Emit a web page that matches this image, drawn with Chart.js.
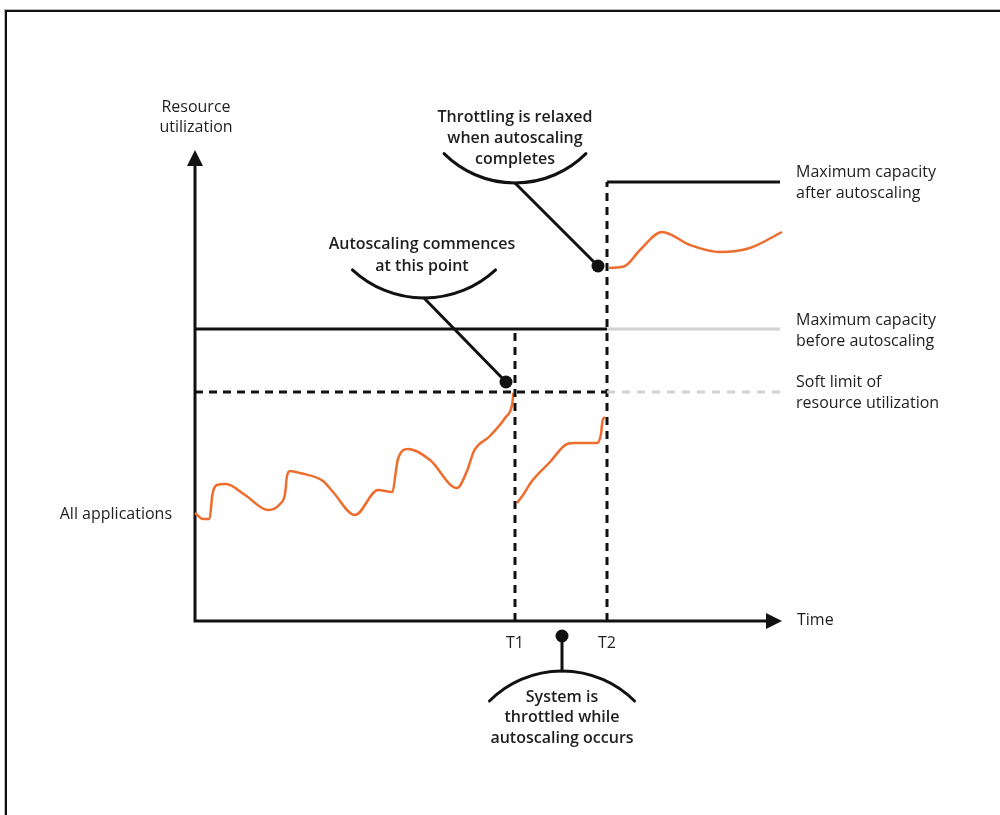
<!DOCTYPE html>
<html lang="en">
<head>
<meta charset="UTF-8">
<title>Autoscaling and throttling</title>
<script src="https://cdn.jsdelivr.net/npm/chart.js@4.4.1/dist/chart.umd.min.js"></script>
<style>
  html, body { margin: 0; padding: 0; background: #fff; overflow: hidden; }
  .frame { position: absolute; left: 5px; top: 10px; width: 1100px; height: 900px; border-top: 2px solid #111; border-left: 2px solid #111; box-shadow: -1px -1px 0 #bbb; }
  canvas { position: absolute; left: 0; top: 0; }
</style>
</head>
<body>
<div class="frame"></div>
<canvas id="chart" width="1000" height="815"></canvas>
<script>
// time / utilization units
const X_MAX = 118;
const Y_MIN = -6;
const Y_MAX = 94.2;
const T1 = 64;
const T2 = 82.4;
const CAP_BEFORE = 58.4;
const SOFT_LIMIT = 45.8;
const CAP_AFTER = 87.8;

// "All applications" load, three pieces
const loadBeforeT1 = [
  [0, 21.6], [1.6, 20.4], [2.9, 20.4], [3.5, 25.4], [4.4, 27.2], [6.2, 27.4], [10, 25.2], [14.6, 22.2],
  [17, 23.4], [18, 25.4], [18.4, 29], [19, 30], [21, 29.6], [25.6, 28], [27.6, 25.8], [32, 21.2],
  [36.6, 26.2], [39.4, 25.8], [40.6, 32.4], [42.6, 34.4], [47, 32.2], [52.4, 26.6], [54.4, 30],
  [55.8, 34], [59, 37], [62, 40.6], [63.4, 43.2], [63.7, 45.6]
];
const loadThrottled = [
  [64.4, 23.6], [65.6, 25.2], [67.4, 28], [71, 31.8], [74.4, 35.4], [76, 35.6],
  [80.4, 35.6], [81.2, 37.4], [81.5, 40], [82, 40.8]
];
const loadAfterT2 = [
  [82.8, 70.6], [86, 71], [89, 74.2], [93.4, 77.8], [99, 75.2], [105, 73.8], [111, 74.6], [117.4, 77.8]
];

// callout dots
const dotStart = [62.2, 47.8];
const dotRelaxed = [80.6, 71];
const dotThrottled = [73.4, -3];

const ORANGE = '#ef6c2f';
const INK = '#111';
const GREY = '#d2d2d2';

const pts = a => a.map(p => ({ x: p[0], y: p[1] }));

function seg(data, color, dash) {
  return {
    data: pts(data), showLine: true, borderColor: color, borderWidth: 3,
    borderDash: dash || [], pointRadius: 0, clip: false, borderCapStyle: 'butt'
  };
}

function load(data) {
  return Object.assign(seg(data, ORANGE), { borderWidth: 2.5, cubicInterpolationMode: 'monotone', borderJoinStyle: 'round' });
}

const datasets = [
  seg([[T2, SOFT_LIMIT], [117, SOFT_LIMIT]], GREY, [8, 7]),
  seg([[T2, CAP_BEFORE], [117, CAP_BEFORE]], GREY),
  seg([[0, SOFT_LIMIT], [T2, SOFT_LIMIT]], INK, [8, 6]),
  seg([[T1, 0], [T1, CAP_BEFORE]], INK, [8, 6]),
  seg([[T2, 0], [T2, CAP_AFTER]], INK, [8, 6]),
  seg([[0, CAP_BEFORE], [T2, CAP_BEFORE]], INK),
  seg([[T2, CAP_AFTER], [117, CAP_AFTER]], INK),
  load(loadBeforeT1),
  load(loadThrottled),
  load(loadAfterT2),
  {
    data: pts([dotStart, dotRelaxed, dotThrottled]), showLine: false,
    pointRadius: 6.5, pointBackgroundColor: INK, pointBorderWidth: 0, clip: false
  }
];

const FONT = '"Open Sans", "Noto Sans", sans-serif';

const diagram = {
  id: 'diagram',
  beforeDatasetsDraw(chart) {
    const { ctx, chartArea: a, scales: { x, y } } = chart;
    const ox = x.getPixelForValue(0), oy = y.getPixelForValue(0);
    ctx.save();
    ctx.strokeStyle = INK; ctx.fillStyle = INK; ctx.lineWidth = 3;
    // axes
    ctx.beginPath();
    ctx.moveTo(ox, oy + 1.5); ctx.lineTo(ox, a.top + 14);
    ctx.moveTo(ox - 1.5, oy); ctx.lineTo(x.getPixelForValue(117.4) - 14, oy);
    ctx.stroke();
    ctx.beginPath();
    ctx.moveTo(ox, a.top); ctx.lineTo(ox - 8, a.top + 16); ctx.lineTo(ox + 8, a.top + 16); ctx.closePath();
    const xt = x.getPixelForValue(117.4);
    ctx.moveTo(xt, oy); ctx.lineTo(xt - 16, oy - 8); ctx.lineTo(xt - 16, oy + 8); ctx.closePath();
    ctx.fill();
    ctx.restore();
  },
  afterDatasetsDraw(chart) {
    const { ctx, scales: { x, y } } = chart;
    const px = v => x.getPixelForValue(v), py = v => y.getPixelForValue(v);
    ctx.save();
    ctx.strokeStyle = INK; ctx.lineWidth = 3; ctx.lineCap = 'round';

    // callout 1: autoscaling commences
    const d1x = px(dotStart[0]), d1y = py(dotStart[1]);
    const b1x = d1x - 82, b1y = d1y - 84;
    ctx.beginPath(); ctx.moveTo(b1x, b1y); ctx.lineTo(d1x, d1y); ctx.stroke();
    ctx.beginPath(); ctx.arc(b1x, b1y - 105.3, 105.3, Math.PI * 0.262, Math.PI * 0.738); ctx.stroke();

    // callout 2: throttling relaxed
    const d2x = px(dotRelaxed[0]), d2y = py(dotRelaxed[1]);
    const b2x = d2x - 83, b2y = d2y - 83;
    ctx.beginPath(); ctx.moveTo(b2x, b2y); ctx.lineTo(d2x, d2y); ctx.stroke();
    ctx.beginPath(); ctx.arc(b2x, b2y - 100.3, 100.3, Math.PI * 0.25, Math.PI * 0.75); ctx.stroke();

    // callout 3: throttled while scaling
    const d3x = px(dotThrottled[0]), d3y = py(dotThrottled[1]);
    const b3y = d3y + 35;
    ctx.beginPath(); ctx.moveTo(d3x, d3y); ctx.lineTo(d3x, b3y); ctx.stroke();
    ctx.beginPath(); ctx.arc(d3x, b3y + 102.6, 102.6, -Math.PI * 0.75, -Math.PI * 0.25); ctx.stroke();

    ctx.fillStyle = '#1e1e1e';
    ctx.textBaseline = 'middle';
    const text = (lines, cx, cy, align, bold, lh) => {
      ctx.font = (bold ? '600 ' : '') + '16px ' + FONT;
      ctx.textAlign = align;
      lines.forEach((s, i) => ctx.fillText(s, cx, cy + i * (lh || 21)));
    };
    text(['Autoscaling commences', 'at this point'], b1x - 2, 244, 'center', true, 22);
    text(['Throttling is relaxed', 'when autoscaling', 'completes'], b2x, 117, 'center', true, 21);
    text(['System is', 'throttled while', 'autoscaling occurs'], d3x, 697, 'center', true, 20.5);

    text(['Resource', 'utilization'], px(0) + 1, 107, 'center', false, 20);
    text(['All applications'], px(0) - 23, py(loadBeforeT1[0][1]) + 1, 'right', false);
    text(['Time'], 797, py(0) - 1, 'left', false);
    text(['T1'], px(T1), 643, 'center', false);
    text(['T2'], px(T2), 643, 'center', false);
    text(['Maximum capacity', 'after autoscaling'], 796, py(CAP_AFTER) - 10, 'left', false);
    text(['Maximum capacity', 'before autoscaling'], 796, py(CAP_BEFORE) - 9, 'left', false);
    text(['Soft limit of', 'resource utilization'], 796, py(SOFT_LIMIT) - 10, 'left', false);
    ctx.restore();
  }
};

new Chart(document.getElementById('chart'), {
  type: 'scatter',
  data: { datasets },
  options: {
    responsive: false, animation: false, devicePixelRatio: 1,
    layout: { padding: { left: 195, top: 150, right: 215, bottom: 164 } },
    plugins: { legend: { display: false }, tooltip: { enabled: false } },
    scales: {
      x: { type: 'linear', min: 0, max: X_MAX, display: false },
      y: { type: 'linear', min: Y_MIN, max: Y_MAX, display: false }
    }
  },
  plugins: [diagram]
});
</script>
</body>
</html>
